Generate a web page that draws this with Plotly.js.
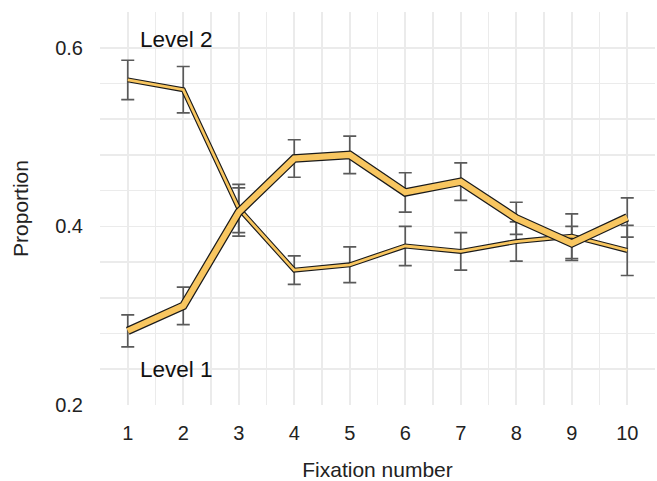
<!DOCTYPE html>
<html>
<head>
<meta charset="utf-8">
<script src="https://cdn.plot.ly/plotly-3.0.1.min.js"></script>
<style>html,body{margin:0;padding:0;background:#fff;}#chart{width:657px;height:481px;}</style>
</head>
<body>
<div id="chart"></div>
<script>
const fixation = [1, 2, 3, 4, 5, 6, 7, 8, 9, 10];
const level1 = [0.283, 0.311, 0.416, 0.476, 0.480, 0.438, 0.450, 0.409, 0.381, 0.410];
const level1Err = [0.018, 0.021, 0.027, 0.021, 0.021, 0.022, 0.021, 0.018, 0.019, 0.022];
const level2 = [0.564, 0.553, 0.420, 0.351, 0.357, 0.378, 0.372, 0.383, 0.389, 0.373];
const level2Err = [0.022, 0.026, 0.027, 0.016, 0.020, 0.022, 0.021, 0.022, 0.025, 0.028];
const yTicks = [0.2, 0.4, 0.6];
const xTicks = fixation;

const fill = '#f8c660';
const outline = '#1a1a1a';
const errColor = '#5a5a5a';

function errTrace(y, e) {
  return {
    x: fixation, y: y, type: 'scatter', mode: 'markers',
    marker: {size: 0.1, opacity: 0},
    error_y: {type: 'data', array: e, visible: true, color: errColor, thickness: 1.7, width: 6.5},
    hoverinfo: 'skip', showlegend: false
  };
}
function lineTrace(y, w, c) {
  return {
    x: fixation, y: y, type: 'scatter', mode: 'lines',
    line: {color: c, width: w, shape: 'linear'},
    hoverinfo: 'skip', showlegend: false
  };
}

const data = [
  errTrace(level1, level1Err),
  errTrace(level2, level2Err),
  lineTrace(level2, 5, outline),
  lineTrace(level2, 2.8, fill),
  lineTrace(level1, 8.5, outline),
  lineTrace(level1, 6, fill)
];

const fam = 'Liberation Sans, Arial, sans-serif';

const layout = {
  width: 657, height: 481,
  margin: {l: 99.5, r: 1.5, t: 12, b: 76, autoexpand: false},
  paper_bgcolor: '#fff', plot_bgcolor: '#fff',
  font: {family: fam, size: 20, color: '#222'},
  xaxis: {
    range: [0.5, 10.5], tickvals: xTicks, ticktext: xTicks.map(String),
    showgrid: true, gridcolor: '#ebebeb', gridwidth: 1.6,
    minor: {tick0: 0.5, dtick: 0.5, showgrid: true, gridcolor: '#ebebeb', gridwidth: 1.6},
    zeroline: false, showline: false, ticks: '', ticklen: 0,
    ticklabelstandoff: 14, automargin: false,
    tickfont: {family: fam, size: 20, color: '#222'},
    title: {text: 'Fixation number', font: {family: fam, size: 21, color: '#222'}, standoff: 19}
  },
  yaxis: {
    range: [0.2, 0.64], tickvals: yTicks, ticktext: ['0.2', '0.4', '0.6'],
    showgrid: true, gridcolor: '#ebebeb', gridwidth: 1.6,
    minor: {tick0: 0.2, dtick: 0.04, showgrid: true, gridcolor: '#ebebeb', gridwidth: 1.6},
    zeroline: false, showline: false, ticks: '', ticklen: 0,
    ticklabelstandoff: 16, automargin: false,
    tickfont: {family: fam, size: 20, color: '#222'},
    title: {text: 'Proportion', font: {family: fam, size: 21, color: '#222'}, standoff: 20}
  },
  annotations: [
    {x: 1.88, y: 0.609, xref: 'x', yref: 'y', text: 'Level 2', showarrow: false,
     font: {family: fam, size: 22.5, color: '#111'}},
    {x: 1.87, y: 0.240, xref: 'x', yref: 'y', text: 'Level 1', showarrow: false,
     font: {family: fam, size: 22.5, color: '#111'}}
  ],
  showlegend: false
};

Plotly.newPlot('chart', data, layout, {staticPlot: true, displayModeBar: false});
</script>
</body>
</html>
